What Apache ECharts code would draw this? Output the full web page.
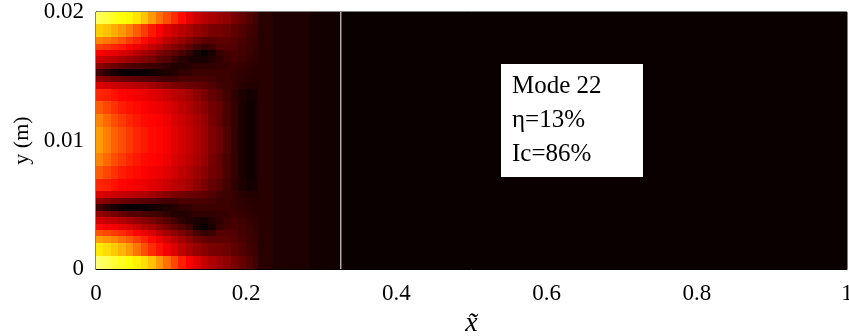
<!DOCTYPE html>
<html>
<head>
<meta charset="utf-8">
<script src="https://cdn.jsdelivr.net/npm/echarts@6/dist/echarts.min.js"></script>
<style>
  html, body { margin: 0; padding: 0; background: #fff; }
  #main { width: 849px; height: 336px; }
</style>
</head>
<body>
<div id="main"></div>
<script>
// cell edges of the detailed part of the mode map (x is normalised, y in metres)
var xEdges = [0, 0.01, 0.02, 0.03, 0.04, 0.05, 0.06, 0.07, 0.08, 0.09, 0.10,
  0.11, 0.12, 0.13, 0.14, 0.15, 0.16, 0.17, 0.18, 0.19, 0.20, 0.21, 0.216];
// finer rows around the two nodal lines
var yEdges = [0, 0.001, 0.002, 0.0025, 0.003, 0.0035, 0.004, 0.0045, 0.005, 0.0055, 0.006,
  0.007, 0.008, 0.009, 0.010, 0.011, 0.012, 0.013, 0.014,
  0.0145, 0.015, 0.0155, 0.016, 0.0165, 0.017, 0.0175, 0.018, 0.019, 0.020];

// normalised amplitude, rows listed from y=0.02 (top) down to y=0
var modeRows = [
  [0.84,0.81,0.78,0.76,0.74,0.71,0.66,0.60,0.54,0.49,0.44,0.39,0.34,0.30,0.27,0.25,0.23,0.21,0.18,0.15,0.12,0.10],
  [0.68,0.66,0.63,0.60,0.56,0.51,0.46,0.41,0.37,0.33,0.30,0.27,0.25,0.22,0.20,0.18,0.17,0.16,0.14,0.12,0.10,0.09],
  [0.57,0.55,0.53,0.50,0.46,0.43,0.39,0.35,0.32,0.28,0.25,0.22,0.19,0.16,0.14,0.13,0.14,0.14,0.13,0.11,0.09,0.085],
  [0.47,0.45,0.43,0.41,0.38,0.35,0.32,0.29,0.26,0.22,0.19,0.17,0.14,0.10,0.08,0.09,0.12,0.13,0.12,0.10,0.09,0.08],
  [0.37,0.35,0.34,0.32,0.30,0.27,0.24,0.22,0.19,0.16,0.14,0.11,0.08,0.035,0.012,0.04,0.08,0.10,0.11,0.10,0.085,0.075],
  [0.30,0.28,0.27,0.25,0.23,0.21,0.19,0.17,0.14,0.12,0.09,0.06,0.045,0.04,0.035,0.05,0.07,0.09,0.10,0.09,0.08,0.07],
  [0.21,0.18,0.16,0.14,0.12,0.11,0.10,0.09,0.08,0.065,0.05,0.05,0.06,0.07,0.07,0.07,0.08,0.08,0.09,0.08,0.07,0.065],
  [0.10,0.06,0.035,0.015,0.01,0.01,0.015,0.025,0.035,0.045,0.055,0.07,0.08,0.09,0.09,0.09,0.09,0.09,0.08,0.07,0.065,0.06],
  [0.21,0.19,0.17,0.16,0.15,0.14,0.13,0.12,0.11,0.10,0.10,0.11,0.11,0.11,0.11,0.10,0.09,0.09,0.08,0.07,0.06,0.055],
  [0.32,0.31,0.30,0.29,0.28,0.27,0.26,0.24,0.22,0.20,0.18,0.17,0.16,0.15,0.14,0.12,0.10,0.09,0.08,0.06,0.05,0.05],
  [0.43,0.42,0.40,0.38,0.37,0.36,0.35,0.33,0.32,0.30,0.28,0.26,0.24,0.21,0.18,0.15,0.13,0.10,0.07,0.045,0.03,0.035],
  [0.51,0.48,0.45,0.42,0.40,0.39,0.375,0.36,0.35,0.33,0.31,0.28,0.26,0.23,0.20,0.17,0.15,0.11,0.08,0.04,0.02,0.03],
  [0.57,0.53,0.49,0.46,0.43,0.41,0.39,0.38,0.37,0.35,0.32,0.30,0.28,0.25,0.22,0.18,0.15,0.11,0.08,0.04,0.02,0.03],
  [0.61,0.56,0.52,0.49,0.46,0.43,0.41,0.39,0.38,0.36,0.33,0.31,0.29,0.26,0.23,0.19,0.16,0.12,0.08,0.04,0.02,0.03],
  [0.61,0.56,0.52,0.49,0.46,0.43,0.41,0.39,0.38,0.36,0.33,0.31,0.29,0.26,0.23,0.19,0.16,0.12,0.08,0.04,0.02,0.03],
  [0.57,0.53,0.49,0.46,0.43,0.41,0.39,0.38,0.37,0.35,0.32,0.30,0.28,0.25,0.22,0.18,0.15,0.11,0.08,0.04,0.02,0.03],
  [0.51,0.48,0.45,0.42,0.40,0.39,0.375,0.36,0.35,0.33,0.31,0.28,0.26,0.23,0.20,0.17,0.15,0.11,0.08,0.04,0.02,0.03],
  [0.43,0.42,0.40,0.38,0.37,0.36,0.35,0.33,0.32,0.30,0.28,0.26,0.24,0.21,0.18,0.15,0.13,0.10,0.07,0.045,0.03,0.035],
  [0.32,0.31,0.30,0.29,0.28,0.27,0.26,0.24,0.22,0.20,0.18,0.17,0.16,0.15,0.14,0.12,0.10,0.09,0.08,0.06,0.05,0.05],
  [0.21,0.19,0.17,0.16,0.15,0.14,0.13,0.12,0.11,0.10,0.10,0.11,0.11,0.11,0.11,0.10,0.09,0.09,0.08,0.07,0.06,0.055],
  [0.10,0.06,0.035,0.015,0.01,0.01,0.015,0.025,0.035,0.045,0.055,0.07,0.08,0.09,0.09,0.09,0.09,0.09,0.08,0.07,0.065,0.06],
  [0.22,0.19,0.17,0.15,0.13,0.12,0.11,0.10,0.09,0.07,0.055,0.05,0.06,0.07,0.07,0.07,0.08,0.08,0.09,0.08,0.07,0.065],
  [0.31,0.29,0.28,0.26,0.24,0.22,0.20,0.18,0.15,0.13,0.10,0.07,0.05,0.04,0.035,0.05,0.07,0.09,0.10,0.09,0.08,0.07],
  [0.39,0.37,0.36,0.34,0.32,0.29,0.26,0.24,0.21,0.18,0.15,0.12,0.09,0.04,0.012,0.04,0.08,0.10,0.11,0.10,0.085,0.075],
  [0.50,0.48,0.46,0.44,0.41,0.38,0.35,0.32,0.28,0.24,0.21,0.18,0.15,0.11,0.08,0.09,0.12,0.13,0.12,0.10,0.09,0.08],
  [0.61,0.59,0.57,0.54,0.51,0.47,0.43,0.39,0.35,0.31,0.27,0.24,0.21,0.17,0.15,0.14,0.14,0.14,0.13,0.11,0.09,0.085],
  [0.72,0.70,0.67,0.64,0.60,0.55,0.49,0.44,0.40,0.36,0.32,0.28,0.25,0.22,0.20,0.18,0.17,0.16,0.14,0.12,0.10,0.09],
  [0.86,0.83,0.80,0.78,0.76,0.73,0.70,0.66,0.60,0.54,0.48,0.42,0.37,0.33,0.29,0.26,0.23,0.21,0.18,0.15,0.12,0.10]
];

// the nearly uniform vertical bands further downstream
var bandEdges = [0.216, 0.236, 0.285, 0.326, 1];
var bandValues = [0.059, 0.044, 0.026, 0.015];

var interfaceX = 0.326;
var xTicks = { min: 0, max: 1, interval: 0.2 };
var yTicks = { min: 0, max: 0.02, interval: 0.01 };

// matlab "hot"
var hotColors = ['#000000', '#550000', '#aa0000', '#ff0000', '#ff5500',
  '#ffaa00', '#ffff00', '#ffff80', '#ffffff'];

var cells = [];
for (var i = 0; i < modeRows.length; i++) {
  var j = modeRows.length - 1 - i;
  for (var k = 0; k < modeRows[i].length; k++) {
    cells.push([xEdges[k], xEdges[k + 1], yEdges[j], yEdges[j + 1], modeRows[i][k]]);
  }
}
for (var b = 0; b < bandValues.length; b++) {
  cells.push([bandEdges[b], bandEdges[b + 1], yEdges[0], yEdges[yEdges.length - 1], bandValues[b]]);
}

var serif = '"Liberation Serif", "Times New Roman", serif';
var labelStyle = { fontFamily: serif, fontSize: 23, color: '#000' };

var myChart = echarts.init(document.getElementById('main'));
var option = {
  animation: false,
  grid: {
    left: 96, right: 2, top: 12, bottom: 67,
    outerBoundsMode: 'none',
    show: true, borderColor: '#000', borderWidth: 1, backgroundColor: '#0a0000'
  },
  visualMap: {
    show: false, type: 'continuous', min: 0, max: 1,
    dimension: 4, seriesIndex: 0,
    inRange: { color: hotColors }
  },
  xAxis: {
    type: 'value', min: xTicks.min, max: xTicks.max, interval: xTicks.interval,
    name: 'x\u0303', nameLocation: 'middle', nameGap: 36,
    nameTextStyle: { fontFamily: serif, fontSize: 28, fontStyle: 'italic', color: '#000' },
    axisLine: { lineStyle: { color: '#000' } },
    axisTick: { show: false },
    splitLine: { show: false },
    axisLabel: Object.assign({ margin: 13 }, labelStyle)
  },
  yAxis: {
    type: 'value', min: yTicks.min, max: yTicks.max, interval: yTicks.interval,
    name: 'y (m)', nameLocation: 'middle', nameGap: 58, nameRotate: 90,
    nameTextStyle: { fontFamily: serif, fontSize: 22, color: '#000' },
    axisLine: { lineStyle: { color: '#000' } },
    axisTick: { show: false },
    splitLine: { show: false },
    axisLabel: Object.assign({ margin: 12 }, labelStyle)
  },
  series: [
    {
      type: 'custom',
      data: cells,
      encode: { x: [0, 1], y: [2, 3] },
      renderItem: function (params, api) {
        var a = api.coord([api.value(0), api.value(3)]);
        var c = api.coord([api.value(1), api.value(2)]);
        var x0 = Math.floor(a[0]), y0 = Math.floor(a[1]);
        return {
          type: 'rect',
          shape: { x: x0, y: y0, width: Math.ceil(c[0]) - x0, height: Math.ceil(c[1]) - y0 },
          style: { fill: api.visual('color') }
        };
      },
      silent: true
    },
    {
      type: 'line',
      data: [[interfaceX, yTicks.min], [interfaceX, yTicks.max]],
      symbol: 'none',
      lineStyle: { color: '#ffffff', width: 1 },
      silent: true
    }
  ],
  graphic: [
    {
      type: 'group', left: 501, top: 64, z: 100,
      children: [
        { type: 'rect', z: 100, shape: { x: 0, y: 0, width: 142, height: 113 }, style: { fill: '#fff' } },
        { type: 'text', z: 101, x: 11, y: 22, style: { text: 'Mode 22', font: '25px ' + serif, fill: '#000', verticalAlign: 'middle' } },
        { type: 'text', z: 101, x: 11, y: 56, style: { text: '\u03b7=13%', font: '25px ' + serif, fill: '#000', verticalAlign: 'middle' } },
        { type: 'text', z: 101, x: 11, y: 90, style: { text: 'Ic=86%', font: '25px ' + serif, fill: '#000', verticalAlign: 'middle' } }
      ]
    }
  ]
};
myChart.setOption(option);
</script>
</body>
</html>
